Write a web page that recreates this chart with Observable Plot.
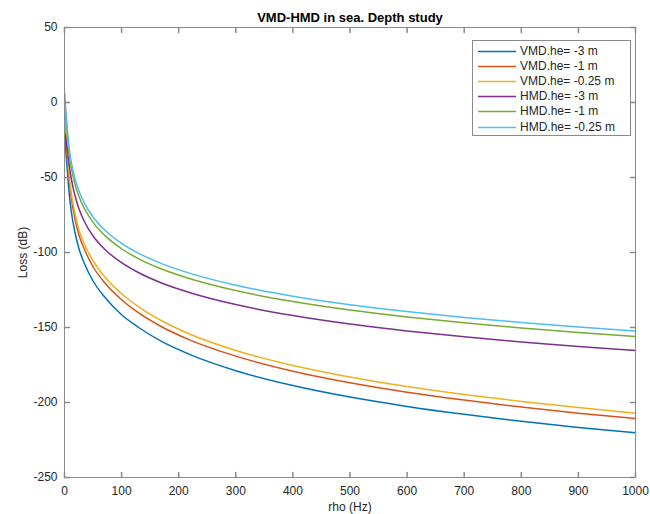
<!DOCTYPE html>
<html>
<head>
<meta charset="utf-8">
<script src="https://cdn.jsdelivr.net/npm/d3@7"></script>
<script src="https://cdn.jsdelivr.net/npm/@observablehq/plot@0.6"></script>
<style>
  html, body { margin: 0; padding: 0; background: #fff; }
  #chart { position: relative; width: 650px; height: 514px; }
  #chart svg { display: block; }
  .legend {
    position: absolute; left: 472px; top: 40px; width: 159px; height: 96px;
    box-sizing: border-box; border: 1px solid #8a8a8a; background: #fff;
    font-family: "Liberation Sans", Arial, Helvetica, sans-serif; font-size: 12px; color: #262626;
  }
  .legend .row { position: absolute; left: 0; width: 155px; height: 15px; line-height: 15px; white-space: nowrap; }
  .legend .swatch { position: absolute; left: 5px; top: 7px; width: 38px; height: 0; }
  .legend .swatch svg { display: block; overflow: visible; }
  .legend .lbl { position: absolute; left: 47px; top: 0; }
</style>
</head>
<body>
<div id="chart"></div>
<script>
// Distance samples (rho) and loss for each source depth, in dB
const rho = [1, 2, 3, 5, 8, 12, 18, 25, 35, 50, 70, 100, 130, 170, 220, 300, 400, 500, 600, 700, 800, 900, 1000];
const vmd3   = [-24, -30, -36, -46, -60, -73, -86, -97, -107.5, -119, -129.5, -141.5, -150, -159.3, -168.1, -178.8, -188.7, -196.4, -202.6, -207.9, -212.5, -216.6, -220.2];
const vmd1   = [-12, -19, -26, -37, -51, -64, -77, -88, -98, -109.5, -120, -131.5, -140.3, -149.5, -158.4, -169.1, -179.1, -186.8, -193.1, -198.4, -203.0, -207.1, -210.7];
const vmd025 = [6, -11, -21, -33, -47.5, -60.5, -73.5, -84.5, -94.5, -105.5, -116, -127.5, -136.2, -145.5, -154.5, -165.3, -175.3, -183.0, -189.4, -194.7, -199.3, -203.4, -207.1];
const hmd3   = [-21, -23, -26, -32, -41, -51, -61.5, -70.5, -79.5, -89, -97.7, -106.8, -113.5, -120.3, -126.8, -134.7, -142, -147.7, -152.3, -156.2, -159.6, -162.6, -165.3];
const hmd1   = [-6, -9, -13, -21.4, -33.3, -43.6, -53.9, -62.3, -70.8, -79.9, -88.4, -97.5, -104.2, -111, -117.5, -125.4, -132.7, -138.4, -143, -146.9, -150.3, -153.3, -156];
const hmd025 = [1, -3, -8, -17.8, -29.7, -40, -50.3, -58.7, -67.2, -76.3, -84.8, -93.9, -100.6, -107.4, -113.9, -121.8, -129.1, -134.8, -139.4, -143.3, -146.7, -149.7, -152.4];

const seriesNames = ["VMD.he= -3 m", "VMD.he= -1 m", "VMD.he= -0.25 m", "HMD.he= -3 m", "HMD.he= -1 m", "HMD.he= -0.25 m"];
const seriesValues = [vmd3, vmd1, vmd025, hmd3, hmd1, hmd025];
const seriesColors = ["#0072BD", "#D95319", "#EDB120", "#7E2F8E", "#77AC30", "#4DBEEE"];

const xTicks = [0, 100, 200, 300, 400, 500, 600, 700, 800, 900, 1000];
const yTicks = [-250, -200, -150, -100, -50, 0, 50];

const titleText = "VMD-HMD in sea. Depth study";
const xLabel = "rho (Hz)";
const yLabel = "Loss (dB)";

// long table: one row per (series, rho)
const rows = seriesNames.flatMap((name, i) => rho.map((r, j) => ({series: name, rho: r, loss: seriesValues[i][j]})));

const axisColor = "#262626";
const boxColor = "#8a8a8a";
const tickShape = {draw(context, l) { context.moveTo(0, 0); context.lineTo(0, -l); }};
const plainNumber = d => String(d); // hyphen-minus, no thousands separator

const chart = Plot.plot({
  width: 650,
  height: 514,
  marginLeft: 64,
  marginRight: 15,
  marginTop: 27,
  marginBottom: 37,
  style: {fontFamily: "'Liberation Sans', Arial, Helvetica, sans-serif", fontSize: "12px", color: axisColor, background: "#fff", overflow: "visible"},
  x: {domain: [0, 1000]},
  y: {domain: [-250, 50]},
  color: {domain: seriesNames, range: seriesColors},
  marks: [
    Plot.line(rows, {x: "rho", y: "loss", z: "series", stroke: "series", strokeWidth: 1.5, curve: "monotone-x"}),
    Plot.frame({stroke: boxColor, strokeWidth: 1}),
    // inward ticks on all four sides
    Plot.vector(xTicks, {x: d => d, frameAnchor: "bottom", length: 5, rotate: 0, anchor: "start", shape: tickShape, stroke: boxColor}),
    Plot.vector(xTicks, {x: d => d, frameAnchor: "top", length: 5, rotate: 180, anchor: "start", shape: tickShape, stroke: boxColor}),
    Plot.vector(yTicks, {y: d => d, frameAnchor: "left", length: 5, rotate: 90, anchor: "start", shape: tickShape, stroke: boxColor}),
    Plot.vector(yTicks, {y: d => d, frameAnchor: "right", length: 5, rotate: -90, anchor: "start", shape: tickShape, stroke: boxColor}),
    Plot.axisX(xTicks, {tickSize: 0, tickPadding: 9, fontSize: 12, tickFormat: plainNumber, label: xLabel, labelAnchor: "center", labelArrow: "none", labelOffset: 33}),
    Plot.axisY(yTicks, {tickSize: 0, tickPadding: 7, fontSize: 12, tickFormat: plainNumber, label: yLabel, labelAnchor: "center", labelArrow: "none", labelOffset: 46}),
    Plot.text([titleText], {frameAnchor: "top", dy: -15, fontWeight: "bold", fontSize: 13, fill: "#000"})
  ]
});

const container = document.getElementById("chart");
container.appendChild(chart);

// legend box in the upper right of the axes
const legend = document.createElement("div");
legend.className = "legend";
seriesNames.forEach((name, i) => {
  const row = document.createElement("div");
  row.className = "row";
  row.style.top = Math.round(3 + i * 15.1) + "px";
  const sw = document.createElement("div");
  sw.className = "swatch";
  const swSvg = d3.create("svg").attr("width", 38).attr("height", 2);
  swSvg.append("line").attr("x1", 0).attr("x2", 38).attr("y1", 0.5).attr("y2", 0.5)
    .attr("stroke", seriesColors[i]).attr("stroke-width", 1.5);
  sw.appendChild(swSvg.node());
  const lbl = document.createElement("span");
  lbl.className = "lbl";
  lbl.textContent = name;
  row.appendChild(sw);
  row.appendChild(lbl);
  legend.appendChild(row);
});
container.appendChild(legend);
</script>
</body>
</html>
